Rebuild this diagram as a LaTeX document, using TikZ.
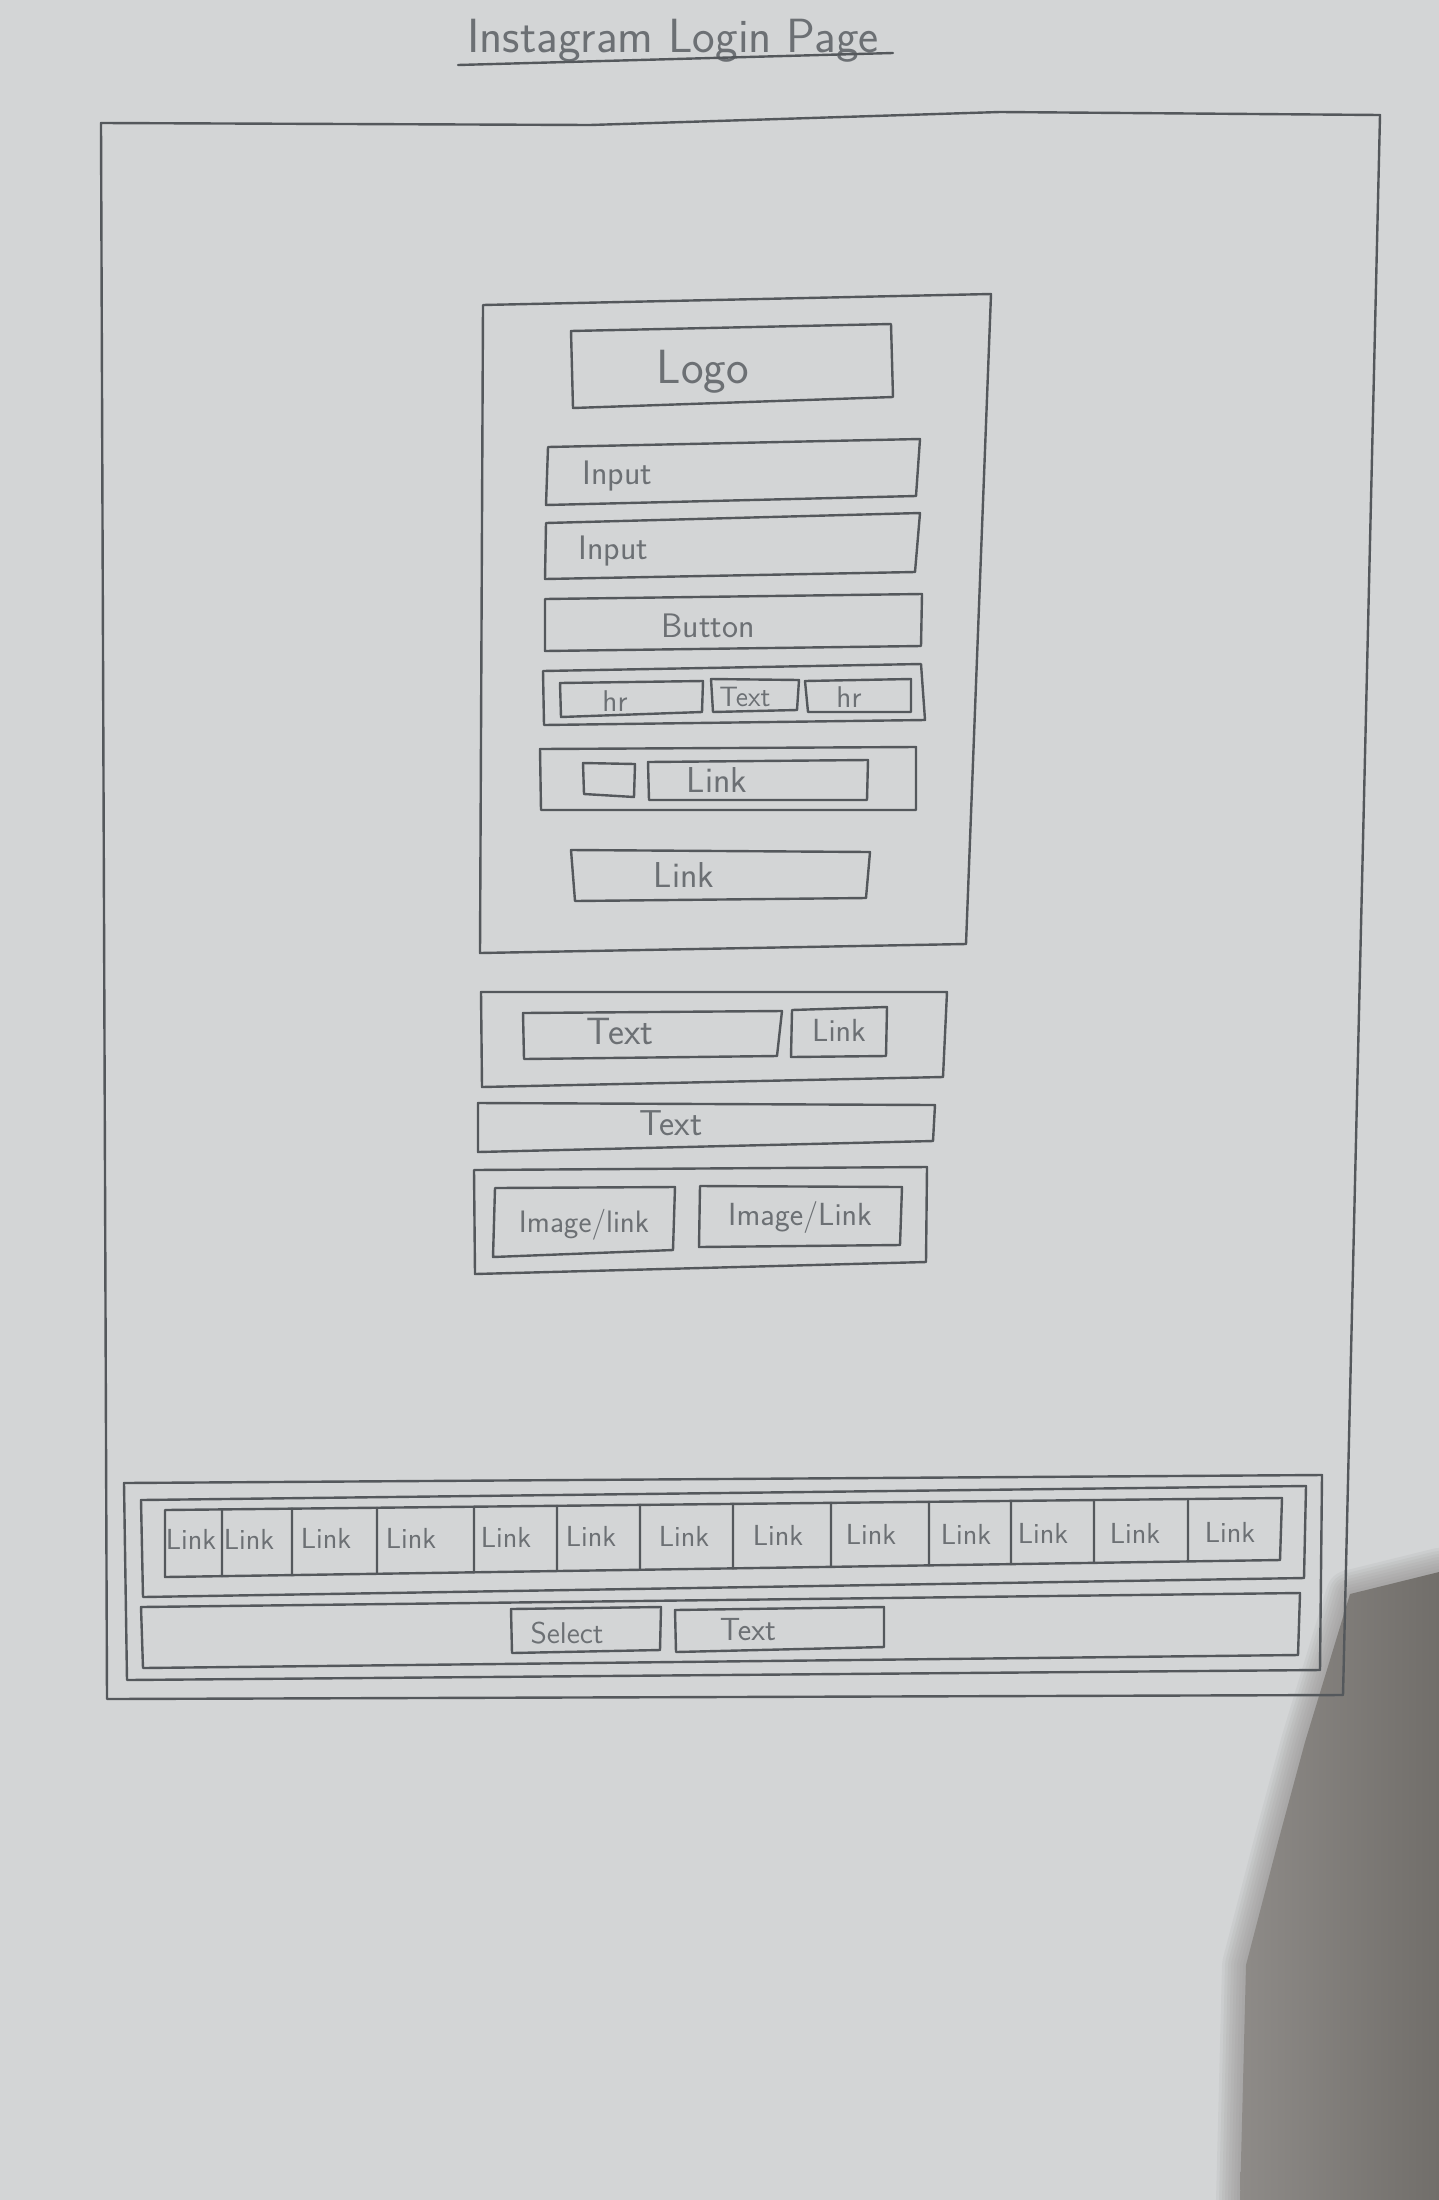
\documentclass[tikz,border=0pt]{standalone}
\usetikzlibrary{calc}
\definecolor{paper}{HTML}{D3D5D6}
\definecolor{shadowa}{HTML}{8E8B88}
\definecolor{shadowb}{HTML}{716E6A}
\definecolor{pencil}{HTML}{54585C}
\definecolor{ink}{HTML}{6C7074}
\newcommand\wfbox[5]{%
  \coordinate (#1-tl) at (#2); \coordinate (#1-tr) at (#3);
  \coordinate (#1-br) at (#4); \coordinate (#1-bl) at (#5);
  \draw[box] (#1-tl) -- (#1-tr) -- (#1-br) -- (#1-bl) -- cycle;}
\newcommand\fsz[1]{\sffamily\fontsize{#1}{#1}\selectfont}
\newcommand\shadowpoly{(1439,1572) -- (1350,1594) -- (1305,1742) -- (1278,1842) -- (1246,1965) -- (1240,2200) -- (1439,2200) -- cycle}
\begin{document}
\begin{tikzpicture}[x=0.5pt,y=-0.5pt,
  box/.style={draw=pencil,line width=1.2pt,line join=round,line cap=round},
  lbl/.style={text=ink,inner sep=0pt,anchor=base,font=\fsz{17}}]
\fill[paper] (0,0) rectangle (1439,2200);
\useasboundingbox (0,0) rectangle (1439,2200);
\begin{scope}
  \clip (0,0) rectangle (1439,2200);
  \foreach \w in {24,21,18,15,12,9,6,3}
    \draw[draw=shadowa,opacity=0.1,line width=\w pt,line join=round] \shadowpoly;
  \shade[left color=shadowa,right color=shadowb] \shadowpoly;
\end{scope}

% title
\node[lbl,font=\fsz{24}] (title) at (673,52) {Instagram Login Page};
\coordinate (ul-l) at (458,65); \coordinate (ul-r) at (893,53);
\draw[box] (ul-l) -- (ul-r);

% outer page frame
\coordinate (fr-tl) at (101,123); \coordinate (fr-tm1) at (590,125);
\coordinate (fr-tm2) at (1000,112); \coordinate (fr-tr) at (1380,115);
\coordinate (fr-br) at (1343,1695); \coordinate (fr-bl) at (107,1699);
\draw[box] (fr-tl) -- (fr-tm1) -- (fr-tm2) -- (fr-tr) -- (fr-br) -- (fr-bl) -- cycle;

% login card
\wfbox{login}{483,305}{991,294}{966,944}{480,953}
\wfbox{logo}{571,331}{891,324}{893,397}{573,408}
\node[lbl,font=\fsz{24}] (logo-t) at (703,383) {Logo};
\wfbox{in1}{548,447}{920,439}{916,496}{546,505}
\node[lbl,anchor=base west] (in1-t) at (582,484) {Input};
\wfbox{in2}{546,523}{920,513}{915,572}{545,579}
\node[lbl,anchor=base west] (in2-t) at (578,559) {Input};
\wfbox{btn}{545,599}{922,594}{921,646}{545,651}
\node[lbl] (btn-t) at (708,637) {Button};
\wfbox{hrrow}{543,671}{921,664}{925,720}{544,725}
\wfbox{hr1}{560,683}{703,681}{702,712}{561,717}
\node[lbl,font=\fsz{15}] (hr1-t) at (615,711) {hr};
\wfbox{hrtx}{711,679}{799,680}{797,710}{713,712}
\node[lbl,font=\fsz{14}] (hrtx-t) at (745,706) {Text};
\wfbox{hr2}{805,681}{911,679}{911,712}{808,712}
\node[lbl,font=\fsz{15}] (hr2-t) at (849,707) {hr};
\wfbox{fbrow}{540,749}{916,747}{916,810}{541,810}
\wfbox{fbicon}{583,763}{635,764}{634,797}{584,794}
\wfbox{fblink}{648,762}{868,760}{867,800}{649,800}
\node[lbl,font=\fsz{18}] (fblink-t) at (717,792) {Link};
\wfbox{forgot}{571,850}{870,852}{866,898}{575,901}
\node[lbl,font=\fsz{18}] (forgot-t) at (684,887) {Link};

% sign up card
\wfbox{signup}{481,992}{947,992}{943,1077}{482,1087}
\wfbox{sutx}{523,1013}{782,1011}{777,1056}{524,1059}
\node[lbl,font=\fsz{19}] (sutx-t) at (620,1044) {Text};
\wfbox{sulk}{792,1010}{887,1007}{886,1056}{791,1057}
\node[lbl,font=\fsz{16}] (sulk-t) at (839,1041) {Link};

% get the app text
\wfbox{apptx}{478,1103}{935,1105}{933,1141}{478,1152}
\node[lbl,font=\fsz{18}] (apptx-t) at (671,1135) {Text};

% app images
\wfbox{imgrow}{474,1170}{927,1167}{926,1262}{475,1274}
\wfbox{img1}{495,1188}{675,1187}{673,1250}{493,1257}
\node[lbl,font=\fsz{15.5}] (img1-t) at (584,1232) {Image/link};
\wfbox{img2}{700,1186}{902,1187}{900,1245}{699,1247}
\node[lbl,font=\fsz{16}] (img2-t) at (800,1225) {Image/Link};

% footer
\wfbox{foot}{124,1483}{1322,1475}{1320,1670}{127,1680}
\wfbox{lkout}{141,1500}{1306,1486}{1304,1578}{143,1597}
\wfbox{lkin}{165,1510}{1282,1498}{1280,1560}{165,1577}
\foreach \x in {222,292,377,474,557,640,733,831,929,1011,1094,1188}
  \draw[box] ($(lkin-tl)!{(\x-165)/1117}!(lkin-tr)$) -- ($(lkin-bl)!{(\x-165)/1115}!(lkin-br)$);
\foreach \x [count=\i] in {191,249,326,411,506,591,684,778,871,966,1043,1135,1230}
  \node[lbl,font=\fsz{14.5}] (fl\i) at (\x,{1550-8*(\x-165)/1117}) {Link};
\wfbox{selrow}{141,1607}{1300,1593}{1298,1655}{143,1668}
\wfbox{sel}{511,1609}{661,1607}{660,1650}{512,1653}
\node[lbl,font=\fsz{15}] (sel-t) at (567,1643) {Select};
\wfbox{ftx}{675,1610}{884,1607}{884,1647}{676,1652}
\node[lbl,font=\fsz{16}] (ftx-t) at (748,1640) {Text};
\end{tikzpicture}
\end{document}
